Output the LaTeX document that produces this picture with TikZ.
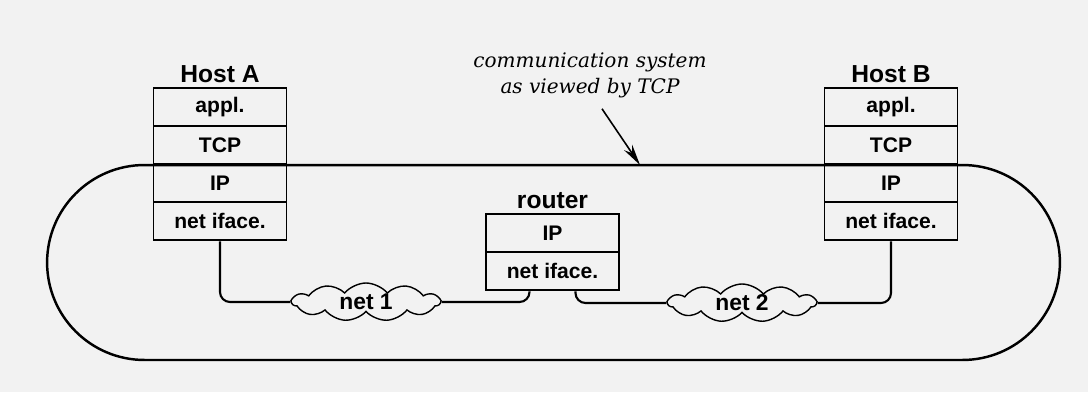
\documentclass[tikz,border=0pt]{standalone}
\usepackage{fontspec}
\setsansfont{Liberation Sans}
\newfontfamily\capfont{DejaVu Serif}
\usetikzlibrary{positioning,shapes.symbols,shapes.misc,arrows.meta}
\definecolor{scan}{RGB}{242,242,242}
\tikzset{
  layer/.style={draw, line width=1.1pt, minimum width=2.66cm, minimum height=0.76cm, inner sep=0pt,
    font=\sffamily\bfseries\fontsize{12}{14}\selectfont},
  stack/.style={row sep=-1.1pt, inner sep=0pt, nodes={layer}},
  stacklabel/.style={inner sep=1pt, font=\sffamily\bfseries\fontsize{14}{16}\selectfont},
  netcloud/.style={cloud, draw, line width=0.8pt, cloud puffs=11, cloud puff arc=100, aspect=4,
    inner sep=0pt, minimum width=2.96cm, minimum height=0.76cm,
    font=\sffamily\bfseries\fontsize{13}{15}\selectfont},
  bus/.style={line width=1.2pt, rounded corners=0.2cm}
}
\begin{document}
\begin{tikzpicture}[x=0.02cm, y=-0.02cm]
\fill[scan] (0,0) rectangle (1088,392);
\useasboundingbox (0,0) rectangle (1088,392);
% system as seen by TCP
\node[rounded rectangle, draw, line width=1.4pt, minimum width=20.26cm, minimum height=3.9cm, inner sep=0pt] (tcpview) at (553.5,262.5) {};
% protocol stacks
\matrix (hostA) [stack, anchor=north] at (220,87)
{
  \node (a1) {appl.}; \\
  \node (a2) {TCP}; \\
  \node (a3) {IP}; \\
  \node (a4) {net iface.}; \\
};
\matrix (hostB) [stack, anchor=north] at (891,87)
{
  \node (b1) {appl.}; \\
  \node (b2) {TCP}; \\
  \node (b3) {IP}; \\
  \node (b4) {net iface.}; \\
};
\matrix (rtr) [stack, anchor=north] at (552.5,213)
{
  \node (r1) {IP}; \\
  \node (r2) {net iface.}; \\
};
\node[stacklabel, above=1pt of hostA] {Host A};
\node[stacklabel, above=1pt of hostB] {Host B};
\node[stacklabel, above=1pt of rtr] {router};
% networks
\node[netcloud] (net1) at (366,302) {net 1};
\node[netcloud] (net2) at (742,303) {net 2};
\draw[bus] (a4.south) |- (net1.west);
\draw[bus] (net1.east) -| ([xshift=-0.46cm]r2.south);
\draw[bus] ([xshift=0.46cm]r2.south) |- (net2.west);
\draw[bus] (net2.east) -| (b4.south);
% caption
\node[align=center, font=\capfont\itshape\fontsize{11.4}{14.8}\selectfont] (caption) at (590,75) {communication system\\as viewed by TCP};
\coordinate (hit) at (640,165);
\draw[-{Stealth[length=12pt,width=5.5pt]}, line width=0.9pt] ([xshift=0.24cm,yshift=-0.1cm]caption.south) -- (hit);
\end{tikzpicture}
\end{document}
